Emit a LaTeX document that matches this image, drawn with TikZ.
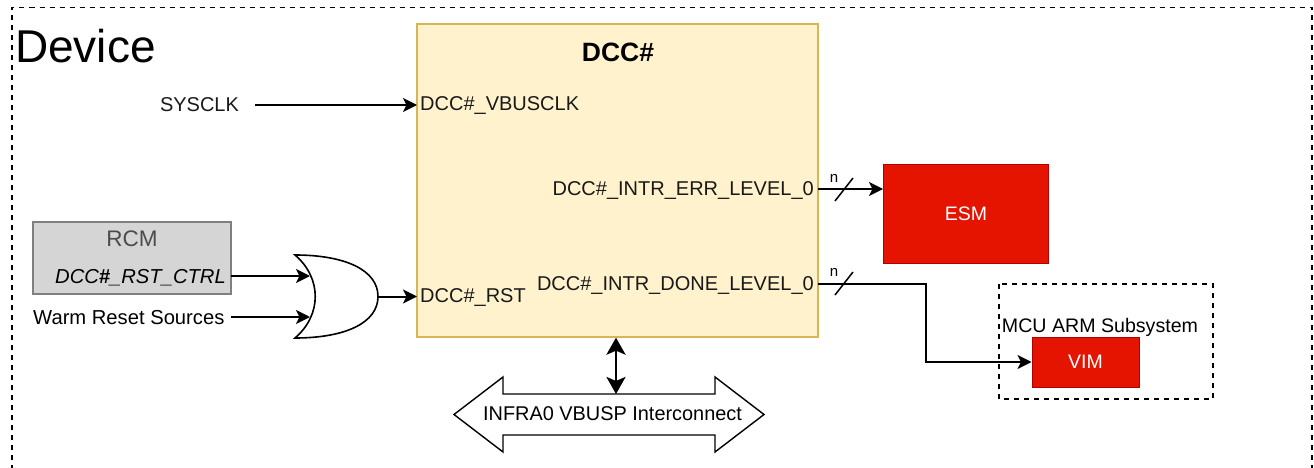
\documentclass[tikz,border=0pt]{standalone}
\usepackage{fontspec}
\setmainfont{Liberation Sans}
\usetikzlibrary{arrows.meta}
\definecolor{yfill}{HTML}{FFF2CC}
\definecolor{ydraw}{HTML}{D6B656}
\definecolor{rfill}{HTML}{E51400}
\definecolor{rdraw}{HTML}{B20000}
\definecolor{gfill}{HTML}{D5D5D5}
\definecolor{gdraw}{HTML}{808080}
\tikzset{
  x=1pt,y=-1pt,
  conn/.style={line width=2pt,-{Stealth[length=14pt,width=14pt,inset=3.5pt]}},
  dbox/.style={draw=black,line width=1.5pt,dash pattern=on 5pt off 5pt},
  lbl/.style={inner sep=0pt,font=\fontsize{20}{20}\selectfont,text=black!90},
  redbox/.style={draw=rdraw,fill=rfill,line width=1pt,text=white,font=\fontsize{19.5}{19.5}\selectfont,inner sep=0pt},
  tick/.style={line width=1.5pt},
  nlbl/.style={inner sep=0pt,font=\fontsize{15}{15}\selectfont},
}
\begin{document}
\begin{tikzpicture}
\useasboundingbox (0,0) rectangle (1314,468);
\draw[dbox] (12,480) -- (12,7.5) -- (1312,7.5) -- (1312,480);
\node[anchor=west,inner sep=0pt,font=\fontsize{46}{46}\selectfont] (device) at (15,46) {Device};
% DCC
\node[draw=ydraw,fill=yfill,line width=1.3pt,minimum width=401pt,minimum height=313pt,inner sep=0pt] (dcc) at (617.5,180.5) {};
\node[inner sep=0pt,font=\bfseries\fontsize{26.5}{26.5}\selectfont] (dcctitle) at (618,52) {DCC\#};
\node[lbl,anchor=west] (vbus) at (420,106) {DCC\#\_VBUSCLK};
\node[lbl,anchor=west] (rstp) at (420,298) {DCC\#\_RST};
\node[lbl,anchor=east] (err) at (814,191) {DCC\#\_INTR\_ERR\_LEVEL\_0};
\node[lbl,anchor=east] (done) at (814,286) {DCC\#\_INTR\_DONE\_LEVEL\_0};
\node[lbl] (sysclk) at (199.5,105) {SYSCLK};
\coordinate (sysout) at (255,105);
\coordinate (vbusin) at (417,105);
\draw[conn] (sysout) -- (vbusin);
% RCM
\node[draw=gdraw,fill=gfill,line width=1.2pt,minimum width=198pt,minimum height=72pt,inner sep=0pt] (rcm) at (132,258) {};
\node[inner sep=0pt,font=\fontsize{22.5}{22.5}\selectfont,text=black!70] (rcmt) at (132,239) {RCM};
\node[inner sep=0pt,anchor=east,font=\itshape\fontsize{20.2}{20.2}\selectfont] (rcmc) at (226,278) {DCC{\bfseries\#}\_RST\_CTRL};
\node[inner sep=0pt,anchor=west,font=\fontsize{20.2}{20.2}\selectfont] (warm) at (33,318) {Warm Reset Sources};
% OR gate
\draw[line width=1.6pt,fill=white] (295,255) .. controls (345,255) and (378,270) .. (378,296.5)
  .. controls (378,323) and (345,338) .. (295,338)
  .. controls (322,315) and (322,278) .. (295,255) -- cycle;
\coordinate (orA) at (310,276);
\coordinate (orB) at (310,317);
\coordinate (orO) at (378,296.5);
\coordinate (warmout) at (231,317);
\coordinate (rstin) at (417,296.5);
\coordinate (rcmout) at (231,276);
\draw[conn] (rcmout) -- (orA);
\draw[conn] (warmout) -- (orB);
\draw[conn] (orO) -- (rstin);
% ESM
\node[redbox,minimum width=165pt,minimum height=99pt] (esm) at (966,214) {ESM};
\coordinate (errout) at (818,189);
\draw[conn] (errout) -- (esm.west |- errout);
\draw[tick] (835,201) -- (853,178);
\node[nlbl] (n1) at (834,178) {n};
% MCU
\draw[dbox] (999,284) rectangle (1213,399);
\node[inner sep=0pt,font=\fontsize{19.6}{19.6}\selectfont] (mcu) at (1100,327.5) {MCU ARM Subsystem};
\node[redbox,minimum width=107pt,minimum height=50pt] (vim) at (1085.5,362) {VIM};
\coordinate (doneout) at (818,283.5);
\coordinate (bend) at (925.5,283.5);
\draw[conn] (doneout) -- (bend) |- (vim.west);
\draw[tick] (835,295) -- (853,272);
\node[nlbl] (n2) at (834,272) {n};
% Interconnect
\draw[line width=1.4pt,fill=white] (454,414.5) -- (503,377) -- (503,394) -- (715,394) -- (715,377) -- (764,414.5) -- (715,452) -- (715,435) -- (503,435) -- (503,452) -- cycle;
\node[inner sep=0pt,font=\fontsize{19.9}{19.9}\selectfont] (infra) at (612.5,413.5) {INFRA0 VBUSP Interconnect};
\coordinate (busT) at (616,394);
\draw[line width=2.8pt,{Stealth[length=17pt,width=19pt,inset=4pt]}-{Stealth[length=17pt,width=19pt,inset=4pt]}] (dcc.south -| busT) -- (busT);
\end{tikzpicture}
\end{document}
